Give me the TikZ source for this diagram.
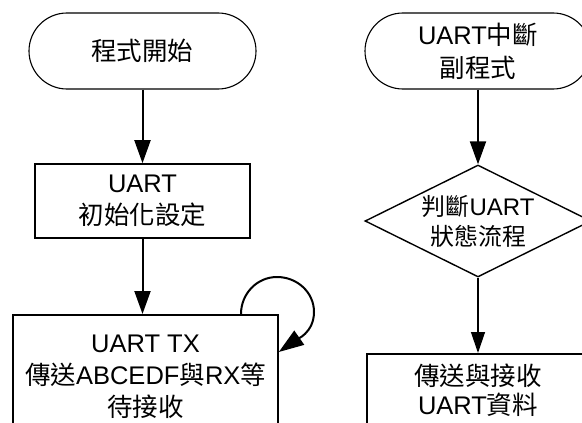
\documentclass[tikz,border=0pt]{standalone}
\usepackage{fontspec}
\setmainfont{Liberation Sans}
\newfontfamily\cjk{Noto Sans CJK TC}
\newcommand\zh[1]{{\cjk #1}}
\usetikzlibrary{arrows.meta,shapes.geometric}

\tikzset{
  txt/.style={font={\fontsize{25.5}{32}\selectfont}, align=center, text=black},
  terminal/.style={txt, draw, line width=1.1pt, rounded corners=38pt,
    minimum height=76pt, inner sep=0pt},
  procbox/.style={txt, draw, line width=1.6pt, inner sep=0pt},
  decision/.style={draw, line width=1.4pt, diamond, aspect=2, inner sep=0pt,
    minimum width=226pt, minimum height=112pt, align=center,
    font={\fontsize{24}{30}\selectfont}},
  flow/.style={line width=2pt, -{Triangle[length=23pt,width=16pt]}},
  thinflow/.style={line width=1.3pt, -{Triangle[length=21pt,width=14pt]}},
}

\begin{document}
\begin{tikzpicture}[x=1pt, y=-1pt]
  \useasboundingbox (0,0) rectangle (582,423);
  \fill[white] (0,0) rectangle (582,423);
  \clip (0,0) rectangle (582,423);

  % main program
  \node[terminal, minimum width=227pt] (start) at (142.5,51) {\zh{程式開始}};
  \node[procbox, minimum width=215pt, minimum height=74pt] (init) at (142.5,201)
    {UART\\\zh{初始化設定}};
  \node[procbox, minimum width=265pt, anchor=north, inner ysep=20pt,
    font={\fontsize{25.5}{32}\selectfont}] (txrx) at (145.5,314)
    {UART TX\\\zh{傳送}ABCEDF\zh{與}RX\zh{等}\\\zh{待接收}};

  \draw[flow] (start.south) -- (init.north);
  \draw[flow] (init.south) -- (init.south |- txrx.north);
  \draw[line width=2pt, -{Triangle[length=25pt,width=17pt]}]
    ([xshift=95.5pt]txrx.north) to[out=90,in=180] (277,277)
    to[out=0,in=90] (314,312) to[out=-90,in=35] ([yshift=-38pt]txrx.north east);

  % interrupt service routine
  \node[terminal, minimum width=226pt, font={\fontsize{25.5}{33}\selectfont}]
    (isr) at (478,51) {UART\zh{中斷}\\\zh{副程式}};
  \node[decision] (check) at (478,221) {\zh{判斷}UART\\\zh{狀態流程}};
  \node[procbox, minimum width=222pt, anchor=north, inner ysep=10pt,
    font={\fontsize{25.5}{29}\selectfont}] (data) at (478,353)
    {\zh{傳送與接收}\\UART\zh{資料}};

  \draw[flow] (isr.south) -- (check.north);
  \draw[thinflow] (check.south) -- (data.north);
\end{tikzpicture}
\end{document}
